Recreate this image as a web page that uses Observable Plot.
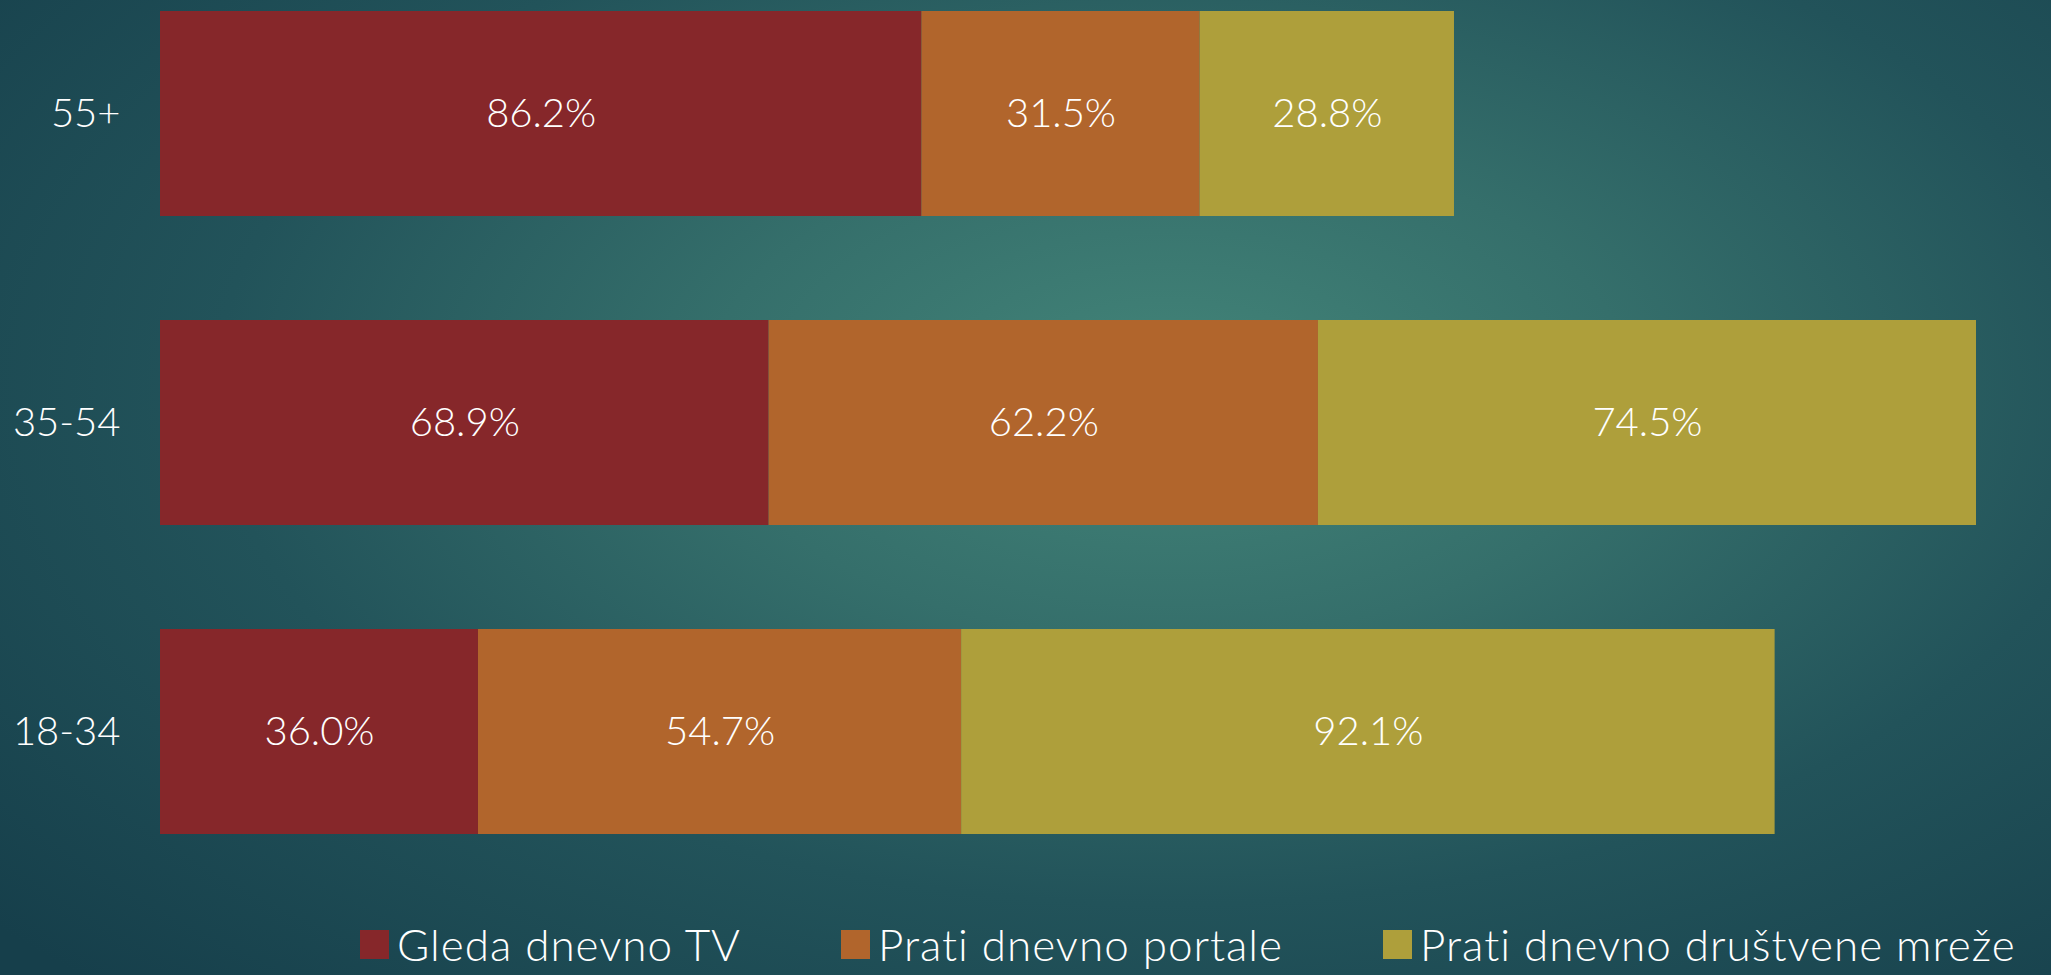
<!DOCTYPE html>
<html>
<head>
<meta charset="utf-8">
<script src="https://cdn.jsdelivr.net/npm/d3@7"></script>
<script src="https://cdn.jsdelivr.net/npm/@observablehq/plot@0.6"></script>
<style>
  html, body { margin: 0; padding: 0; }
  body {
    width: 2051px; height: 975px; overflow: hidden;
    background: radial-gradient(ellipse 75% 85% at 57% 40%, #438579 0%, #356f6b 30%, #22535a 62%, #163f4b 100%);
    font-family: "Lato", "Noto Sans", sans-serif;
    font-weight: 300;
  }
  #chart svg { display: block; background: transparent; }
  #legend {
    display: flex; align-items: center; color: #fff;
    font-size: 44px; font-weight: 300; height: 64px; margin-top: 32px;
    padding-left: 360px; white-space: nowrap; letter-spacing: 1px;
  }
  .item { display: flex; align-items: center; }
  .sw { width: 29px; height: 29px; margin-right: 8px; }
</style>
</head>
<body>
<div id="chart"></div>
<div id="legend"></div>
<script>
const ages = ["55+", "35-54", "18-34"];
const series = ["Gleda dnevno TV", "Prati dnevno portale", "Prati dnevno društvene mreže"];
const colors = ["#86272a", "#b1652c", "#ae9f3b"];
const tvValues = [86.2, 68.9, 36.0];
const portalValues = [31.5, 62.2, 54.7];
const socialValues = [28.8, 74.5, 92.1];

const valuesBySeries = [tvValues, portalValues, socialValues];
const data = [];
series.forEach((s, si) => ages.forEach((a, ai) => data.push({age: a, series: s, value: valuesBySeries[si][ai]})));
const maxSum = d3.max(ages.map((a, ai) => valuesBySeries.reduce((t, v) => t + v[ai], 0)));

const plot = Plot.plot({
  width: 2051,
  height: 880,
  marginLeft: 160,
  marginRight: 75,
  marginTop: 10,
  marginBottom: 44,
  style: {background: "transparent", color: "#fff", fontFamily: "Lato, 'Noto Sans', sans-serif", fontWeight: 300},
  x: {domain: [0, maxSum], axis: null},
  y: {domain: ages, paddingInner: 0.335, paddingOuter: 0, label: null},
  color: {domain: series, range: colors},
  marks: [
    Plot.barX(data, Plot.stackX({x: "value", y: "age", fill: "series", order: null})),
    Plot.text(data, Plot.stackX({x: "value", y: "age", z: "series", order: null,
      text: d => d.value.toFixed(1) + "%", fill: "#fff", fontSize: 40, fontWeight: 300})),
    Plot.axisY({tickSize: 0, tickPadding: 40, fontSize: 40, fontWeight: 300, fill: "#fff", label: null})
  ]
});
document.getElementById("chart").appendChild(plot);

const legend = document.getElementById("legend");
const gaps = [0, 100, 100];
series.forEach((s, i) => {
  const it = document.createElement("div");
  it.className = "item";
  it.style.marginLeft = gaps[i] + "px";
  const sw = document.createElement("div");
  sw.className = "sw";
  sw.style.background = colors[i];
  const t = document.createElement("span");
  t.textContent = s;
  it.appendChild(sw); it.appendChild(t);
  legend.appendChild(it);
});
</script>
</body>
</html>
